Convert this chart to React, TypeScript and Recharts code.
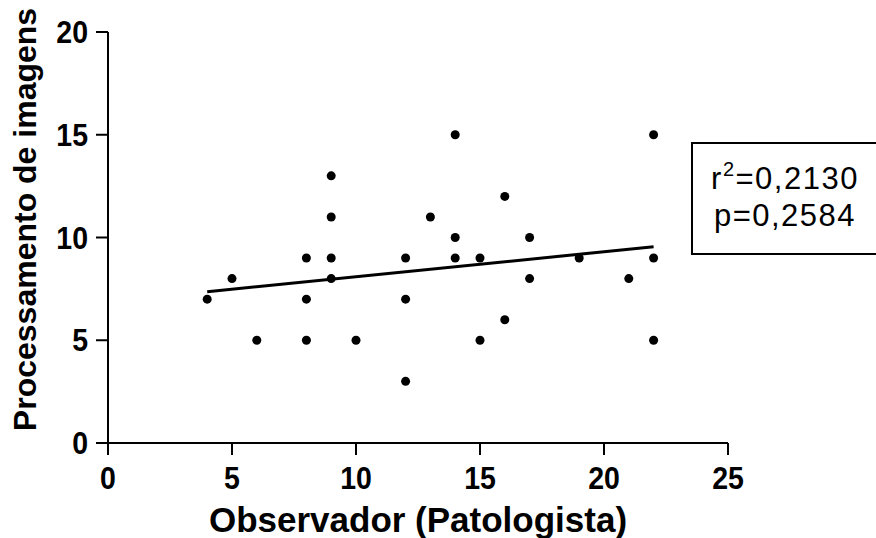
import { ScatterChart, Scatter, XAxis, YAxis, ReferenceLine } from "recharts";

// Observer (pathologist) score vs image-processing score
const observador = [4, 5, 6, 8, 8, 8, 9, 9, 9, 9, 10, 12, 12, 12, 13, 14, 14, 14, 15, 15, 16, 16, 17, 17, 19, 21, 22, 22, 22];
const processamento = [7, 8, 5, 9, 7, 5, 13, 11, 9, 8, 5, 9, 7, 3, 11, 15, 10, 9, 9, 5, 12, 6, 10, 8, 9, 8, 15, 9, 5];

// regression line endpoints
const fitX = [4, 22];
const fitY = [7.36, 9.55];

const xTicks = [0, 5, 10, 15, 20, 25];
const yTicks = [0, 5, 10, 15, 20];

const FONT = "'Liberation Sans', Arial, sans-serif";

const points = observador.map((x, i) => ({ x, y: processamento[i] }));

function Dot(props: any) {
  const { cx, cy } = props;
  return <circle cx={cx} cy={cy} r={4.5} fill="#000" />;
}

// tick digits in the original are bold and a little condensed
function XTick({ x, y, payload }: any) {
  return (
    <text
      transform={`translate(${x} ${y}) scale(0.92 1)`}
      dy="0.72em"
      textAnchor="middle"
      fontSize={31}
      fontWeight={700}
      fontFamily={FONT}
      fill="#000"
    >
      {payload.value}
    </text>
  );
}

function YTick({ x, y, payload }: any) {
  return (
    <text
      transform={`translate(${x} ${y}) scale(0.92 1)`}
      dy="0.36em"
      textAnchor="end"
      fontSize={31}
      fontWeight={700}
      fontFamily={FONT}
      fill="#000"
    >
      {payload.value}
    </text>
  );
}

export default function App() {
  return (
    <div style={{ position: "absolute", left: 0, top: 0, width: 876, height: 538, background: "#fff", overflow: "hidden" }}>
      <ScatterChart width={876} height={538} margin={{ top: 32, right: 148, left: 48, bottom: 0 }}>
        <XAxis
          type="number"
          dataKey="x"
          domain={[0, 25]}
          ticks={xTicks}
          height={95}
          tickSize={12}
          tickMargin={12}
          tick={<XTick />}
          axisLine={{ stroke: "#000", strokeWidth: 2 }}
          tickLine={{ stroke: "#000", strokeWidth: 2 }}
          label={({ viewBox }: any) => (
            <text
              x={viewBox.x + viewBox.width / 2}
              y={viewBox.y + 89}
              textAnchor="middle"
              fontSize={35}
              fontWeight={700}
              fontFamily={FONT}
              fill="#000"
            >
              Observador (Patologista)
            </text>
          )}
        />
        <YAxis
          type="number"
          dataKey="y"
          domain={[0, 20]}
          ticks={yTicks}
          width={60}
          tickSize={12}
          tickMargin={8}
          tick={<YTick />}
          axisLine={{ stroke: "#000", strokeWidth: 2 }}
          tickLine={{ stroke: "#000", strokeWidth: 2 }}
          label={({ viewBox }: any) => {
            const cx = 36;
            const cy = viewBox.y + viewBox.height / 2 - 18;
            return (
              <text
                x={cx}
                y={cy}
                transform={`rotate(-90, ${cx}, ${cy})`}
                textAnchor="middle"
                fontSize={32}
                fontWeight={700}
                fontFamily={FONT}
                fill="#000"
              >
                Processamento de imagens
              </text>
            );
          }}
        />
        <ReferenceLine
          segment={[
            { x: fitX[0], y: fitY[0] },
            { x: fitX[1], y: fitY[1] },
          ]}
          stroke="#000"
          strokeWidth={3}
        />
        <Scatter data={points} shape={<Dot />} isAnimationActive={false} />
      </ScatterChart>
      <div
        style={{
          position: "absolute",
          left: 691,
          top: 142,
          width: 190,
          height: 113,
          boxSizing: "border-box",
          border: "2px solid #000",
          fontFamily: FONT,
          fontSize: 31,
          letterSpacing: 1.5,
          lineHeight: "37px",
          textAlign: "center",
          paddingTop: 16,
          paddingRight: 2,
          color: "#000",
        }}
      >
        <div>
          r<sup style={{ fontSize: 20, lineHeight: 0, verticalAlign: "13px" }}>2</sup>=0,2130
        </div>
        <div>p=0,2584</div>
      </div>
    </div>
  );
}
